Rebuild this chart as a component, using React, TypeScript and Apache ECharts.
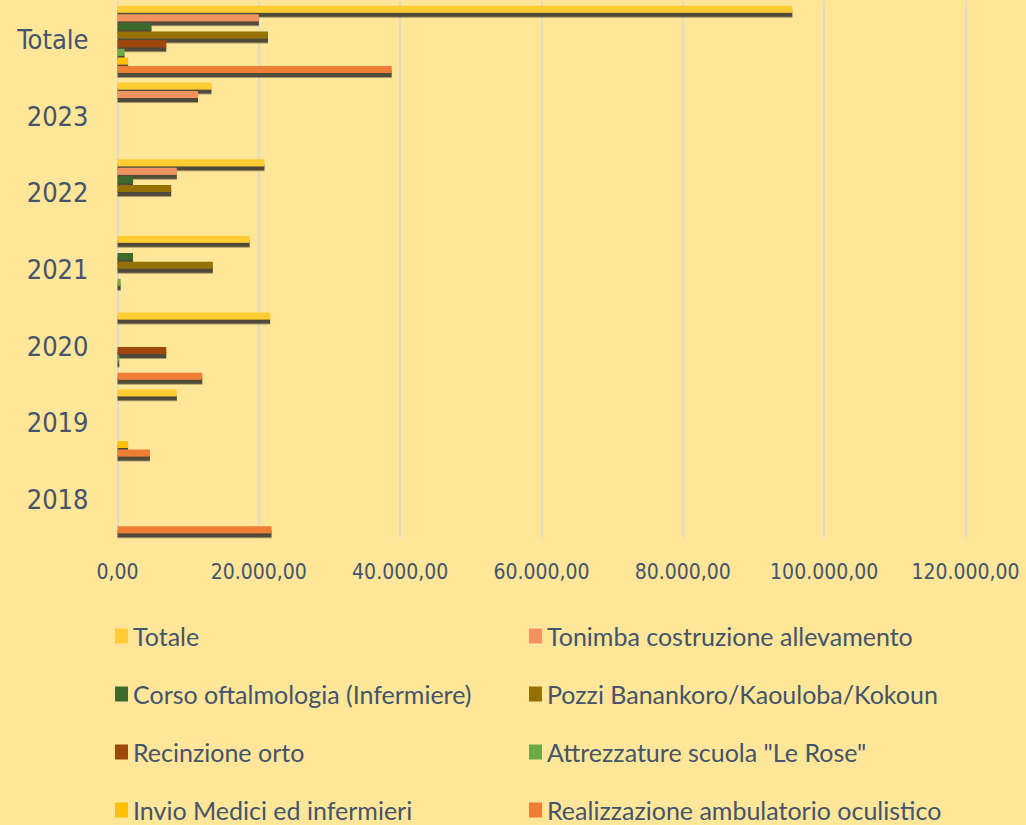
import React, { useEffect, useRef } from "react";
import * as echarts from "echarts";

const categories = ["2018", "2019", "2020", "2021", "2022", "2023", "Totale"];

const seriesNames = [
  "Totale",
  "Tonimba costruzione allevamento",
  "Corso oftalmologia (Infermiere)",
  "Pozzi Banankoro/Kaouloba/Kokoun",
  "Recinzione orto",
  "Attrezzature scuola \"Le Rose\"",
  "Invio Medici ed infermieri",
  "Realizzazione ambulatorio oculistico",
];

// values per category: 2018, 2019, 2020, 2021, 2022, 2023, Totale
const totale = [null, 8400, 21600, 18700, 20800, 13300, 95500];
const tonimba = [null, null, null, null, 8400, 11400, 20000];
const corso = [null, null, null, 2200, 2200, null, 4800];
const pozzi = [null, null, null, 13500, 7600, null, 21300];
const recinzione = [null, null, 6900, null, null, null, 6900];
const attrezzature = [null, null, 250, 450, null, null, 1000];
const invio = [null, 1500, null, null, null, null, 1500];
const realizzazione = [21800, 4600, 12000, null, null, null, 38800];

const seriesValues = [totale, tonimba, corso, pozzi, recinzione, attrezzature, invio, realizzazione];

const colors = [
  "#FFCC33",
  "#F0935E",
  "#3E6B2A",
  "#957100",
  "#A0460F",
  "#6DAA45",
  "#FFC000",
  "#EE7D35",
];

const xTicks = { min: 0, max: 120000, interval: 20000 };

const TEXT = "#44546A";
const NARROW = "'DejaVu Sans Condensed', 'DejaVu Sans', sans-serif";

function fmt(v: number): string {
  const int = Math.round(v).toString().replace(/\B(?=(\d{3})+(?!\d))/g, ".");
  return int + ",00";
}

export default function App() {
  const ref = useRef<HTMLDivElement>(null);
  useEffect(() => {
    if (!ref.current) return;
    const chart = echarts.init(ref.current, undefined, { renderer: "svg" });
    const leftNames = [seriesNames[0], seriesNames[2], seriesNames[4], seriesNames[6]];
    const rightNames = [seriesNames[1], seriesNames[3], seriesNames[5], seriesNames[7]];
    const legendCommon = {
      orient: "vertical" as const,
      top: 623.5,
      padding: 0,
      itemWidth: 13,
      itemHeight: 15,
      itemGap: 33,
      icon: "rect",
      textStyle: { color: TEXT, fontSize: 25, fontFamily: "Lato, sans-serif", lineHeight: 24 },
    };
    chart.setOption({
      animation: false,
      backgroundColor: "#FFE699",
      color: colors,
      grid: { left: 117.5, right: 60.5, top: 1, bottom: 287, containLabel: false },
      legend: [
        { ...legendCommon, left: 115, data: leftNames },
        { ...legendCommon, left: 529, data: rightNames },
      ],
      xAxis: {
        type: "value",
        min: xTicks.min,
        max: xTicks.max,
        interval: xTicks.interval,
        axisLine: { show: false },
        axisTick: { show: false },
        splitLine: { show: true, lineStyle: { color: "#D6D6D6", width: 1.5 } },
        axisLabel: {
          color: TEXT,
          fontSize: 21,
          fontFamily: NARROW,
          margin: 23,
          formatter: (v: number) => fmt(v),
        },
      },
      yAxis: {
        type: "category",
        data: categories,
        axisLine: { show: false },
        axisTick: { show: false },
        axisLabel: { color: TEXT, fontSize: 27, fontFamily: NARROW, margin: 29 },
      },
      series: seriesNames.map((name, i) => ({
        name,
        type: "bar",
        data: seriesValues[i],
        barWidth: 7,
        barGap: "23%",
        itemStyle: {
          color: colors[i],
          shadowColor: "rgba(70,66,48,0.95)",
          shadowOffsetY: 4.5,
          shadowBlur: 1,
        },
      })),
    });
    return () => chart.dispose();
  }, []);
  return (
    <div
      ref={ref}
      style={{ position: "fixed", left: 0, top: 0, width: 1026, height: 825 }}
    />
  );
}
